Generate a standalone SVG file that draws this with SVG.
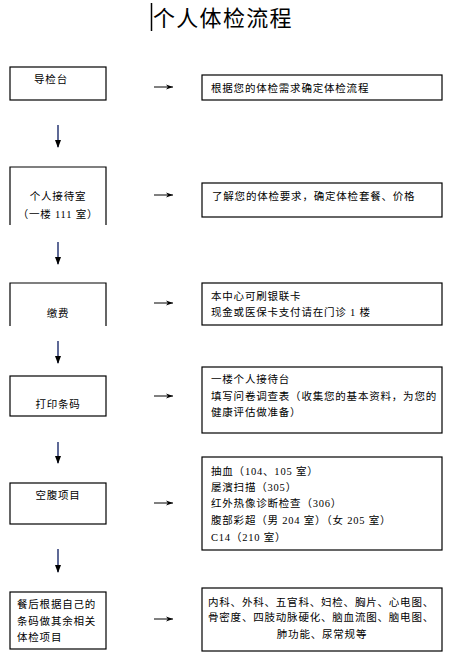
<svg xmlns="http://www.w3.org/2000/svg" width="458" height="668" viewBox="0 0 458 668">
<style>
.bg{fill:#fff}
.box{fill:none;stroke:#000;stroke-width:1.2}
.t{font-family:"Liberation Serif","Noto Sans CJK SC",serif;font-size:10.5px;letter-spacing:0.8px;fill:#000}
.c{text-anchor:middle}
.title{font-family:"Noto Sans CJK SC",sans-serif;font-size:22px;letter-spacing:1.3px;fill:#000}
.ar{stroke:#000;stroke-width:1;fill:none}
.dn{stroke:#1a2a6a;stroke-width:1.4;fill:none}
</style>
<defs>
<marker id="ah" markerWidth="8" markerHeight="6" refX="7" refY="3" orient="auto" markerUnits="userSpaceOnUse">
<path d="M0,0.5 L7,3 L0,5.5 L2,3 Z" fill="#000"/>
</marker>
<marker id="dh" markerWidth="8" markerHeight="9" refX="7" refY="4" orient="auto" markerUnits="userSpaceOnUse">
<path d="M0,1 L8,4 L0,7 Z" fill="#000"/>
</marker>
</defs>
<rect class="bg" width="458" height="668"/>
<g id="title">
<line x1="151.5" y1="3" x2="151.5" y2="31" stroke="#000" stroke-width="1.5"/>
<text class="title" x="153" y="26">个人体检流程</text>
</g>
<g id="n1">
<rect class="box" x="10" y="67" width="96" height="33"/>
<text class="t c" x="51" y="83">导检台</text>
</g>
<g id="r1">
<rect class="box" x="202" y="75" width="240" height="25"/>
<text class="t" x="211" y="92">根据您的体检需求确定体检流程</text>
</g>
<g id="n2">
<path class="box" d="M10,225 V167 H106 V225"/>
<text class="t c" x="58" y="200">个人接待室</text>
<text class="t c" x="58" y="218">（一楼 111 室）</text>
</g>
<g id="r2">
<rect class="box" x="202" y="183" width="240" height="34"/>
<text class="t" x="212" y="200">了解您的体检要求，确定体检套餐、价格</text>
</g>
<g id="n3">
<path class="box" d="M10,326 V283 H106 V326"/>
<text class="t c" x="58" y="317">缴费</text>
</g>
<g id="r3">
<rect class="box" x="202" y="283" width="240" height="42"/>
<text class="t" x="211" y="300">本中心可刷银联卡</text>
<text class="t" x="211" y="316">现金或医保卡支付请在门诊 1 楼</text>
</g>
<g id="n4">
<rect class="box" x="10" y="376" width="96" height="40"/>
<text class="t c" x="58" y="408">打印条码</text>
</g>
<g id="r4">
<rect class="box" x="202" y="367" width="240" height="66"/>
<text class="t" x="211" y="383">一楼个人接待台</text>
<text class="t" x="211" y="400">填写问卷调查表（收集您的基本资料，为您的</text>
<text class="t" x="211" y="416">健康评估做准备）</text>
</g>
<g id="n5">
<rect class="box" x="10" y="483" width="96" height="41"/>
<text class="t c" x="58" y="499">空腹项目</text>
</g>
<g id="r5">
<rect class="box" x="202" y="457" width="240" height="93"/>
<text class="t" x="211" y="475">抽血（104、105 室）</text>
<text class="t" x="211" y="491">屡濱扫描（305）</text>
<text class="t" x="211" y="507">红外热像诊断检查（306）</text>
<text class="t" x="211" y="524">腹部彩超（男 204 室）（女 205 室）</text>
<text class="t" x="211" y="541">C14（210 室）</text>
</g>
<g id="n6">
<rect class="box" x="10" y="592" width="96" height="57"/>
<text class="t" x="17" y="608">餐后根据自己的</text>
<text class="t" x="17" y="625">条码做其余相关</text>
<text class="t" x="17" y="641">体检项目</text>
</g>
<g id="r6">
<rect class="box" x="202" y="588" width="240" height="63"/>
<text class="t c" x="321" y="606">内科、外科、五官科、妇检、胸片、心电图、</text>
<text class="t c" x="321" y="621">骨密度、四肢动脉硬化、脑血流图、脑电图、</text>
<text class="t c" x="322" y="638">肺功能、尿常规等</text>
</g>
<g id="connectors">
<line class="ar" x1="154" y1="87" x2="173" y2="87" marker-end="url(#ah)"/>
<line class="ar" x1="154" y1="195" x2="173" y2="195" marker-end="url(#ah)"/>
<line class="ar" x1="154" y1="303" x2="173" y2="303" marker-end="url(#ah)"/>
<line class="ar" x1="154" y1="396" x2="173" y2="396" marker-end="url(#ah)"/>
<line class="ar" x1="154" y1="503" x2="173" y2="503" marker-end="url(#ah)"/>
<line class="ar" x1="154" y1="619" x2="173" y2="619" marker-end="url(#ah)"/>
<line class="dn" x1="58" y1="125" x2="58" y2="147" marker-end="url(#dh)"/>
<line class="dn" x1="58" y1="242" x2="58" y2="264" marker-end="url(#dh)"/>
<line class="dn" x1="58" y1="341" x2="58" y2="363" marker-end="url(#dh)"/>
<line class="dn" x1="58" y1="442" x2="58" y2="463" marker-end="url(#dh)"/>
<line class="dn" x1="58" y1="549" x2="58" y2="572" marker-end="url(#dh)"/>
</g>
</svg>
